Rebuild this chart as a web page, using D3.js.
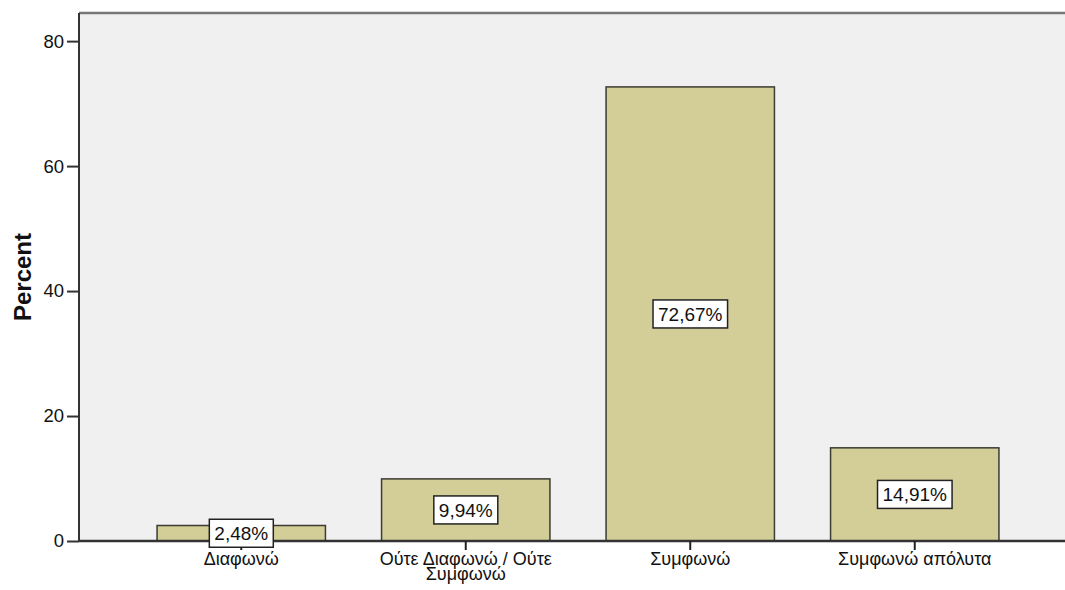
<!DOCTYPE html>
<html>
<head>
<meta charset="utf-8">
<script src="https://cdn.jsdelivr.net/npm/d3@7"></script>
<style>
  body { margin: 0; background: #fff; }
  svg { display: block; font-family: Arial, "Liberation Sans", sans-serif; }
</style>
</head>
<body>
<div id="chart"></div>
<script>
// chart values
const categories = ["Διαφωνώ", "Ούτε Διαφωνώ / Ούτε Συμφωνώ", "Συμφωνώ", "Συμφωνώ απόλυτα"];
const percents = [2.48, 9.94, 72.67, 14.91];
const yTicks = [0, 20, 40, 60, 80];
const yMax = 84.5;

const width = 1065, height = 590;
const margin = { top: 13, right: 0, bottom: 49, left: 79 };

const svg = d3.select("#chart")
    .append("svg")
    .attr("width", width)
    .attr("height", height);

const x = d3.scaleBand()
    .domain(categories)
    .range([129, 1027])
    .paddingInner(0.25)
    .paddingOuter(0.125);

const y = d3.scaleLinear()
    .domain([0, yMax])
    .range([height - margin.bottom, margin.top]);

// plot background
svg.append("rect")
    .attr("x", margin.left)
    .attr("y", margin.top)
    .attr("width", width - margin.left - margin.right)
    .attr("height", height - margin.top - margin.bottom)
    .attr("fill", "#f0f0f0");

// top border
svg.append("line")
    .attr("x1", margin.left).attr("x2", width)
    .attr("y1", margin.top).attr("y2", margin.top)
    .attr("stroke", "#777").attr("stroke-width", 2.5);

// bars
svg.append("g")
    .selectAll("rect")
    .data(percents)
    .join("rect")
    .attr("x", (d, i) => x(categories[i]))
    .attr("y", d => y(d))
    .attr("width", x.bandwidth())
    .attr("height", d => y(0) - y(d))
    .attr("fill", "#d3ce97")
    .attr("stroke", "#3b3b33")
    .attr("stroke-width", 1.5);

// y axis
const yAxis = svg.append("g")
    .attr("transform", `translate(${margin.left},0)`)
    .call(d3.axisLeft(y).tickValues(yTicks).tickSize(12).tickSizeOuter(0));
yAxis.select(".domain").attr("stroke", "#333").attr("stroke-width", 2)
    .attr("d", `M0,${margin.top}V${y(0)}`);
yAxis.selectAll(".tick line").attr("stroke", "#333").attr("stroke-width", 2);
yAxis.selectAll(".tick text")
    .attr("font-size", 18.5).attr("fill", "#111").attr("x", -15)
    .attr("font-family", "Arial, 'Liberation Sans', sans-serif");

// x axis
const xAxis = svg.append("g")
    .attr("transform", `translate(0,${y(0)})`)
    .call(d3.axisBottom(x).tickSize(9).tickSizeOuter(0));
xAxis.select(".domain").attr("stroke", "#333").attr("stroke-width", 2.5)
    .attr("d", `M${margin.left},0H${width}`);
xAxis.selectAll(".tick line").attr("stroke", "#222").attr("stroke-width", 2);
xAxis.selectAll(".tick text")
    .attr("font-size", 18).attr("fill", "#111").attr("y", 11)
    .attr("font-family", "Arial, 'Liberation Sans', sans-serif")
    .call(wrap, 205);

function wrap(sel, maxW) {
    sel.each(function () {
        const t = d3.select(this);
        const words = t.text().split(/\s+/);
        t.text(null);
        let line = [];
        let tspan = t.append("tspan").attr("x", 0).attr("dy", "0.71em");
        for (const w of words) {
            line.push(w);
            tspan.text(line.join(" "));
            if (tspan.node().getComputedTextLength() > maxW && line.length > 1) {
                line.pop();
                tspan.text(line.join(" "));
                line = [w];
                tspan = t.append("tspan").attr("x", 0).attr("dy", "0.85em").text(w);
            }
        }
    });
}

// value labels
const fmt = v => d3.format(".2f")(v).replace(".", ",") + "%";
const labels = svg.append("g")
    .selectAll("g")
    .data(percents)
    .join("g")
    .attr("transform", (d, i) => `translate(${x(categories[i]) + x.bandwidth() / 2},${(y(d) + y(0)) / 2})`);

labels.append("text")
    .attr("text-anchor", "middle")
    .attr("dy", "0.36em")
    .attr("font-size", 19)
    .attr("fill", "#111")
    .text(fmt);

labels.insert("rect", "text")
    .each(function () {
        const bb = this.parentNode.querySelector("text").getBBox();
        d3.select(this)
            .attr("x", bb.x - 5)
            .attr("y", -14)
            .attr("width", bb.width + 10)
            .attr("height", 28);
    })
    .attr("fill", "#fff")
    .attr("stroke", "#222")
    .attr("stroke-width", 1.5);

// axis title
svg.append("text")
    .attr("transform", `translate(31,${(margin.top + y(0)) / 2}) rotate(-90)`)
    .attr("text-anchor", "middle")
    .attr("font-size", 24)
    .attr("font-weight", "bold")
    .attr("fill", "#111")
    .text("Percent");
</script>
</body>
</html>
